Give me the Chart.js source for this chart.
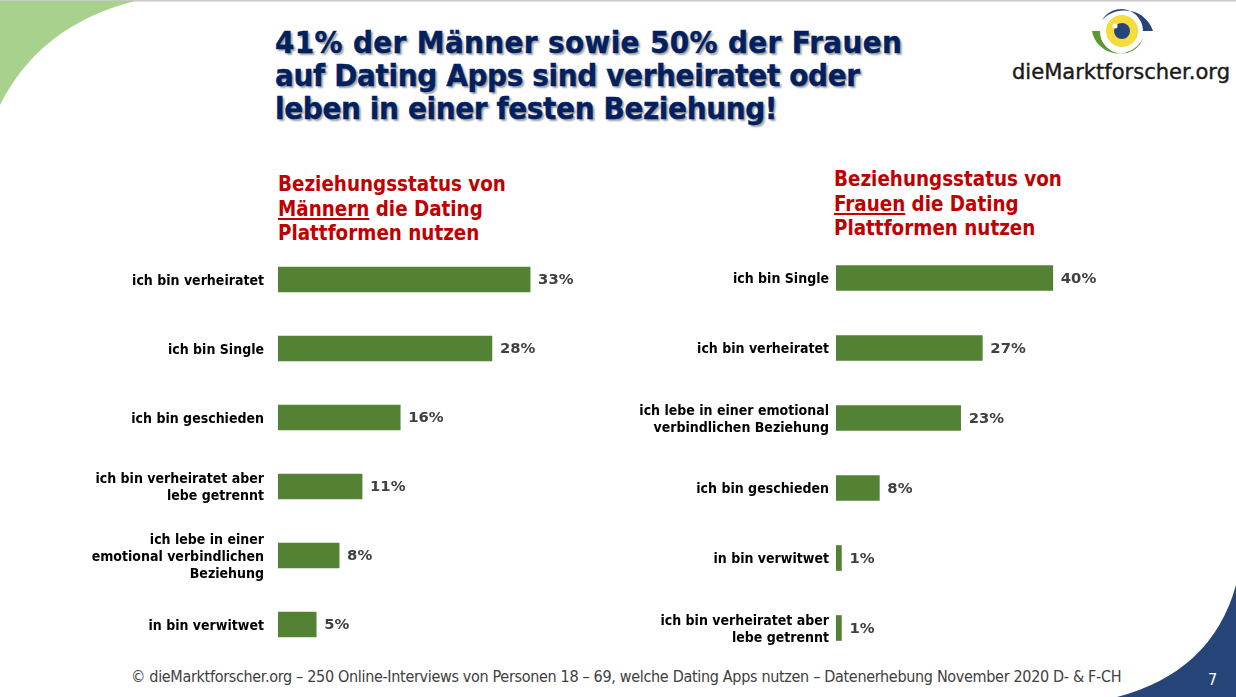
<!DOCTYPE html>
<html lang="de">
<head>
  <meta charset="UTF-8" />
  <title>Beziehungsstatus Dating Apps</title>
  <script src="https://cdn.jsdelivr.net/npm/chart.js"></script>
  <style>
    html, body { margin: 0; padding: 0; background: #fff; }
    #slide { position: relative; width: 1236px; height: 697px; overflow: hidden; font-family: "DejaVu Sans Condensed", "DejaVu Sans", sans-serif; }
    #shapes { position: absolute; left: 0; top: 0; }
    canvas { position: absolute; display: block; }
    #headline {
      position: absolute; left: 275px; top: 26px; margin: 0;
      font-size: 31px; line-height: 33px; font-weight: bold; color: #002060;
      text-shadow: 2px 2px 2px #a0a0a0; white-space: nowrap;
      -webkit-text-stroke: 0.4px #002060;
    }
    .subtitle {
      position: absolute; margin: 0; font-size: 20.4px; line-height: 24.5px; font-weight: bold;
      color: #c00000; white-space: nowrap;
    }
    #footer { position: absolute; left: 131px; top: 667px; font-size: 16px; letter-spacing: -0.32px; color: #404040; white-space: nowrap; }
    #pagenum { position: absolute; left: 1208px; top: 670px; font-size: 16px; color: #fff; }
  </style>
</head>
<body>
  <div id="slide">
    <svg id="shapes" width="1236" height="697">
      <rect x="0" y="0" width="1236" height="1.5" fill="#c8c8c8" />
      <path d="M0 105 Q40 25 135 1 L0 1 Z" fill="#a9d18e" />
      <path d="M1117 697 Q1212 672 1236 585 L1236 697 Z" fill="#264478" />
      <!-- logo -->
      <path d="M1102 20 A30 29 0 0 1 1153 31 L1143 31 A22 22 0 0 0 1102 20 Z" fill="#264478" />
      <path d="M1092 31 L1100 31 A22 22 0 0 0 1143 38 A27 27 0 0 1 1092 31 Z" fill="#5b9a32" />
      <circle cx="1122" cy="31" r="16" fill="#f4dc3c" />
      <circle cx="1122" cy="31" r="8" fill="#264478" />
      <circle cx="1115" cy="26" r="2.5" fill="#fff" />
      <text x="1012" y="79" font-family="'DejaVu Sans'" font-size="21" fill="#1a1a1a" stroke="#1a1a1a" stroke-width="0.4" textLength="218" lengthAdjust="spacingAndGlyphs">dieMarktforscher.org</text>
    </svg>
    <h1 id="headline"><span style="letter-spacing:.37px">41% der Männer sowie 50% der Frauen</span><br><span style="letter-spacing:-.34px">auf Dating Apps sind verheiratet oder</span><br><span style="letter-spacing:-.35px">leben in einer festen Beziehung!</span></h1>
    <p class="subtitle" style="left:278px;top:172px">Beziehungsstatus von<br><u>Männern</u> die Dating<br>Plattformen nutzen</p>
    <p class="subtitle" style="left:834px;top:167px">Beziehungsstatus von<br><u>Frauen</u> die Dating<br>Plattformen nutzen</p>
    <canvas id="menChart" width="660" height="414" style="left:0;top:245px"></canvas>
    <canvas id="womenChart" width="547" height="420" style="left:560px;top:243px"></canvas>
    <div id="footer">© dieMarktforscher.org – 250 Online-Interviews von Personen 18 – 69, welche Dating Apps nutzen – Datenerhebung November 2020 D- &amp; F-CH</div>
    <div id="pagenum">7</div>
  </div>
  <script>
    const menLabels = ['ich bin verheiratet', 'ich bin Single', 'ich bin geschieden', ['ich bin verheiratet aber', 'lebe getrennt'], ['ich lebe in einer', 'emotional verbindlichen', 'Beziehung'], 'in bin verwitwet'];
    const menValues = [33, 28, 16, 11, 8, 5];
    const womenLabels = ['ich bin Single', 'ich bin verheiratet', ['ich lebe in einer emotional', 'verbindlichen Beziehung'], 'ich bin geschieden', 'in bin verwitwet', ['ich bin verheiratet aber', 'lebe getrennt']];
    const womenValues = [40, 27, 23, 8, 1, 1];

    // draws the "33%" style labels next to each bar
    const valueLabels = {
      id: 'valueLabels',
      afterDatasetsDraw(chart) {
        const ctx = chart.ctx;
        const values = chart.data.datasets[0].data;
        ctx.save();
        ctx.font = 'bold 14.8px "DejaVu Sans"';
        ctx.fillStyle = '#404040';
        ctx.textBaseline = 'middle';
        chart.getDatasetMeta(0).data.forEach((bar, i) => {
          ctx.fillText(values[i] + '%', bar.x + 8, bar.y + 1);
        });
        ctx.restore();
      }
    };

    function makeChart(id, labels, values, axisWidth, labelGap) {
      return new Chart(document.getElementById(id), {
        type: 'bar',
        data: {
          labels: labels,
          datasets: [{ data: values, backgroundColor: '#548235', barThickness: 25 }]
        },
        options: {
          indexAxis: 'y',
          responsive: false,
          animation: false,
          layout: { padding: 0, autoPadding: false },
          plugins: { legend: { display: false }, tooltip: { enabled: false } },
          scales: {
            x: { display: false, min: 0, max: 50 },
            y: {
              // fixed label column, and no extra space above and below the bars
              afterFit(axis) {
                axis.width = axisWidth;
                axis.paddingTop = 0;
                axis.paddingBottom = 0;
              },
              grid: { display: false, drawTicks: false },
              border: { display: false },
              ticks: {
                autoSkip: false,
                padding: labelGap,
                labelOffset: 1.5,
                color: '#000',
                font: { family: '"DejaVu Sans Condensed"', size: 14, weight: 'bold', lineHeight: 1.21 }
              }
            }
          }
        },
        plugins: [valueLabels]
      });
    }

    makeChart('menChart', menLabels, menValues, 278, 14);
    makeChart('womenChart', womenLabels, womenValues, 276, 7);
  </script>
</body>
</html>
